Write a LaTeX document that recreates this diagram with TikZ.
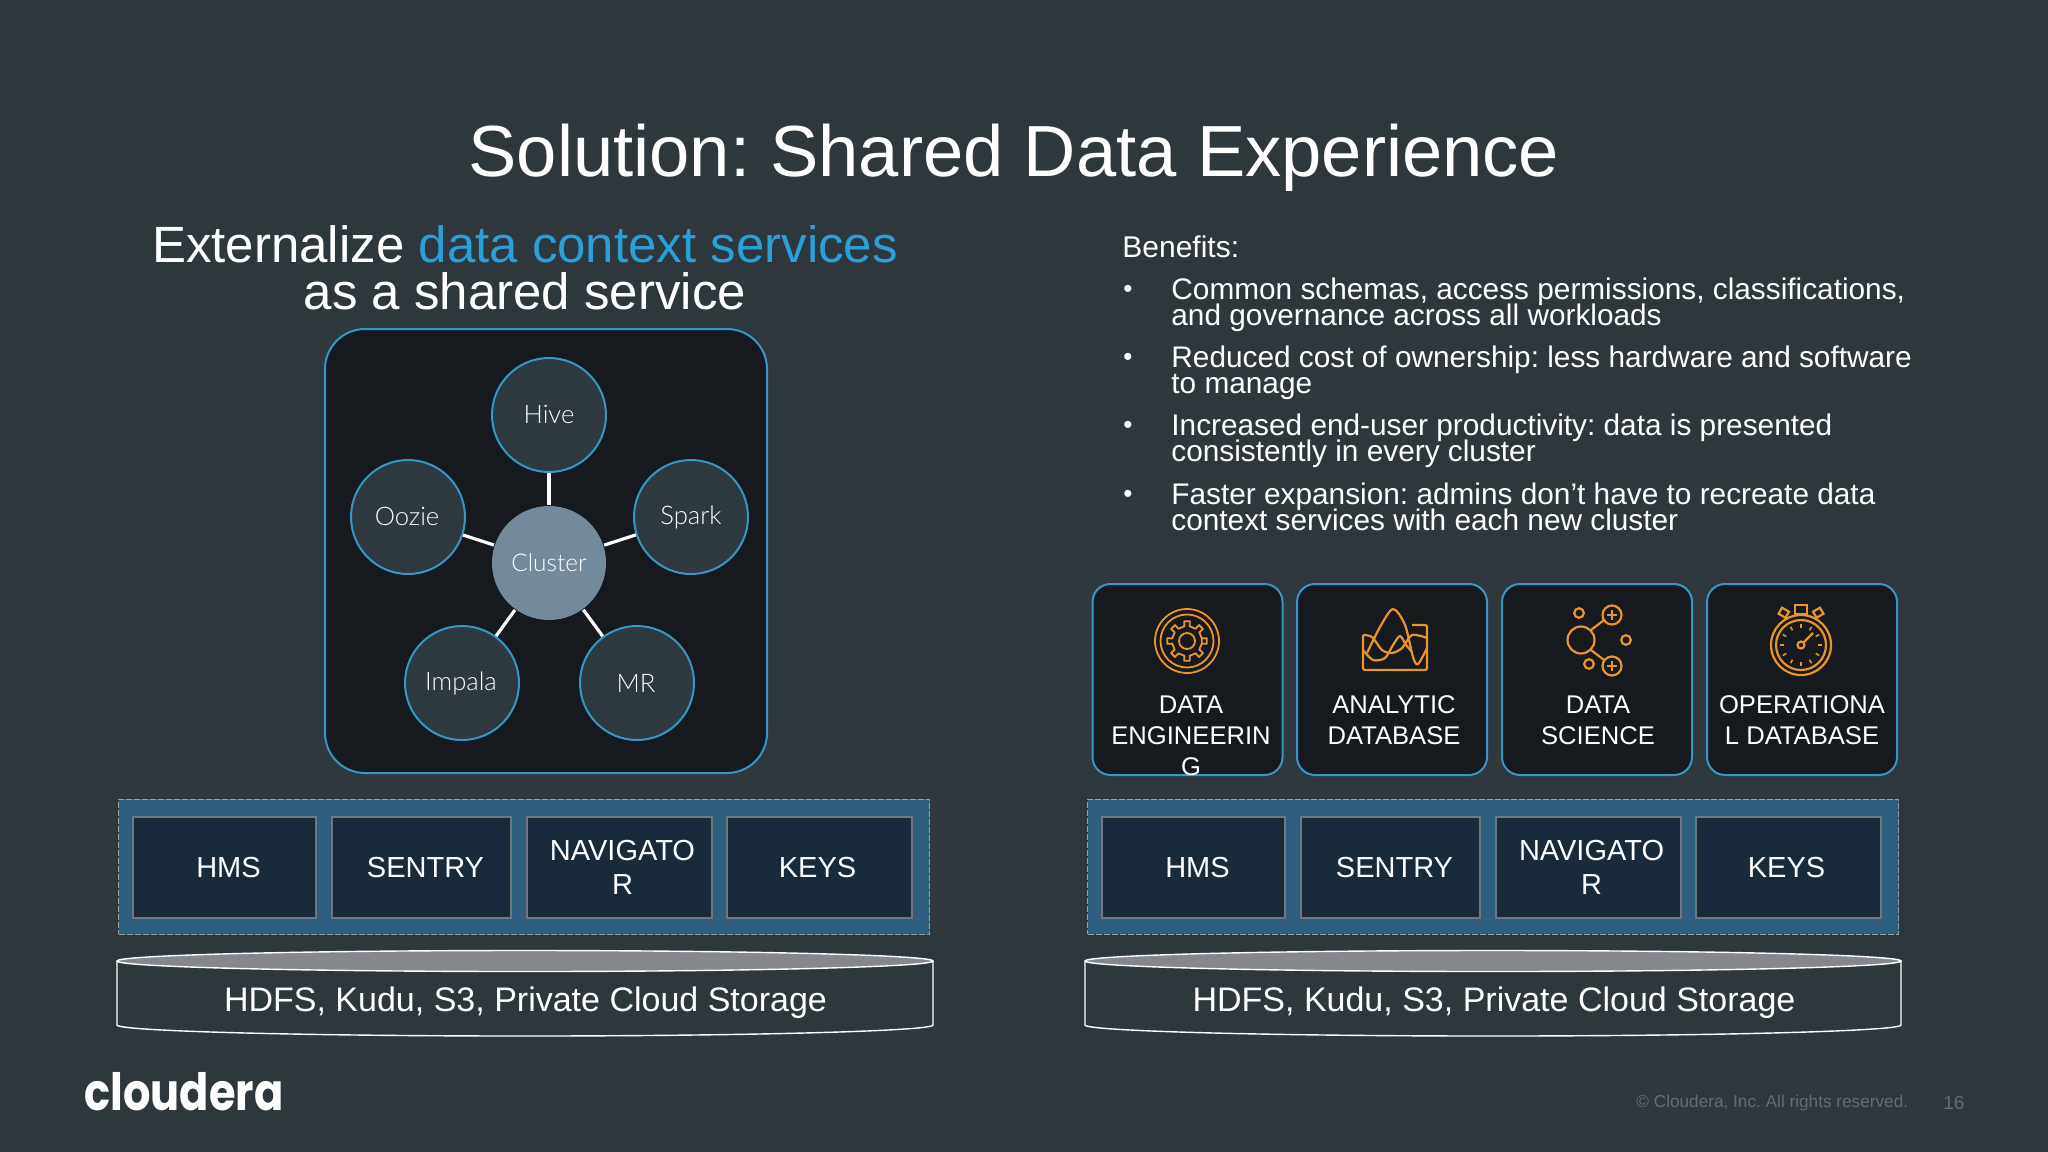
\documentclass[tikz,border=0pt]{standalone}
\usepackage{fontspec}
\usepackage{graphicx}
\setmainfont{Liberation Sans}
\newfontfamily\lightf{Lato Light}
\newfontfamily\logof{Poppins}
\newcommand{\pxf}[2]{\fontsize{#1}{#2}\selectfont\frenchspacing\lineskiplimit=-100pt }
\definecolor{bgc}{HTML}{2E373C}
\definecolor{panelc}{HTML}{16191E}
\definecolor{circc}{HTML}{2E383F}
\definecolor{clusterc}{HTML}{748A9A}
\definecolor{strokec}{HTML}{3796C4}
\definecolor{bandc}{HTML}{2E5F7F}
\definecolor{boxc}{HTML}{192B3A}
\definecolor{boxl}{HTML}{6F787C}
\definecolor{headb}{HTML}{2A9FD8}
\definecolor{orangec}{HTML}{E8962A}
\definecolor{capc}{HTML}{84888D}
\definecolor{footc}{HTML}{646D72}
\tikzset{
  x=0.5pt,y=-0.5pt,
  tile/.style={draw=strokec,line width=1pt,fill=panelc,rounded corners=9pt,minimum width=95pt,minimum height=95.5pt,inner sep=0pt},
  tiletext/.style={text=white,align=center,font=\pxf{12.8}{15.5},inner sep=0pt},
  icon/.style={draw=orangec,line width=1.1pt},
  svc/.style={circle,draw=strokec,line width=1pt,fill=circc,minimum size=57pt,inner sep=0pt,text=white,font=\lightf\pxf{12.8}{15}},
  spoke/.style={draw=white,line width=1.6pt},
  band/.style={draw=boxl!70!white,dashed,dash pattern=on 3pt off 1pt,line width=.5pt,fill=bandc,minimum width=405.5pt,minimum height=67.5pt,inner sep=0pt},
  svcbox/.style={draw=boxl,line width=1pt,fill=boxc,minimum height=50.5pt,inner sep=0pt,text=white,align=center,font=\pxf{14.5}{17}},
  cyl/.style={draw=white,line width=.7pt},
  cyltext/.style={text=white,font=\pxf{17}{20},inner sep=0pt},
  bul/.style={anchor=north west,text=white,align=left,font=\pxf{14.9}{13},inner sep=0pt},
  dot/.style={anchor=center,text=white,font=\pxf{13}{13},inner sep=0pt}
}
\begin{document}
\begin{tikzpicture}
\useasboundingbox (0,0) rectangle (2048,1151.6);
\fill[bgc] (0,0) rectangle (2048,1152);
% titles
\node[text=white,font=\pxf{36.2}{40},inner sep=0pt] (title) at (1014,158) {Solution: Shared Data Experience};
\node[text=white,font=\pxf{25.5}{23.5},align=center,inner sep=0pt] (lhead) at (525,268) {Externalize \textcolor{headb}{data context services}\\as a shared service};
% benefits
\node[anchor=west,text=white,font=\pxf{15}{17},inner sep=0pt] (ben) at (1122,247) {Benefits:};
\node[dot] (d1) at (1128,291) {•};
\node[bul] (b1) at (1171,277) {Common schemas, access permissions, classifications,\\and governance across all workloads};
\node[dot] (d2) at (1128,359) {•};
\node[bul] (b2) at (1171,345) {Reduced cost of ownership: less hardware and software\\to manage};
\node[dot] (d3) at (1128,427) {•};
\node[bul] (b3) at (1171,413) {Increased end-user productivity: data is presented\\consistently in every cluster};
\node[dot] (d4) at (1128,496) {•};
\node[bul] (b4) at (1171,482) {Faster expansion: admins don’t have to recreate data\\context services with each new cluster};
% cluster panel
\node[draw=strokec,line width=1pt,fill=panelc,rounded corners=20pt,minimum width=221pt,minimum height=222pt,inner sep=0pt] (panel) at (546,551) {};
\node[svc] (hive) at (549,415) {\raisebox{1pt}{Hive}};
\node[svc] (oozie) at (408,517) {\raisebox{.5pt}{Oozie}\hspace*{1pt}};
\node[svc] (spark) at (691,517) {Spark};
\node[svc] (impala) at (462,683) {Impala\hspace*{1pt}};
\node[svc] (mr) at (637,683) {MR\hspace*{1pt}};
\node[svc,draw=none,fill=clusterc,font=\lightf\pxf{12.2}{15}] (cluster) at (549,563) {Cluster};
\foreach \n in {hive,oozie,spark,impala,mr} \draw[spoke] (cluster) -- (\n);
% tiles
\node[tile] (t1) at (1187.5,679.5) {};
\node[tile] (t2) at (1392,679.5) {};
\node[tile] (t3) at (1597,679.5) {};
\node[tile] (t4) at (1802,679.5) {};
\node[tiletext,anchor=north] (tt1) at (1191,695) {DATA\\ENGINEERIN\\G};
\node[tiletext,anchor=north] (tt2) at (1394,695) {ANALYTIC\\DATABASE};
\node[tiletext,anchor=north] (tt3) at (1598,695) {DATA\\SCIENCE};
\node[tiletext,anchor=north] (tt4) at (1802,695) {OPERATIONA\\L DATABASE};
% gear icon
\begin{scope}[shift={(1187,641)}]
  \draw[icon,line width=.9pt] (0,0) circle (32);
  \draw[icon,line width=.9pt] (0,0) circle (26.5);
  \draw[icon,line width=.9pt] (0,0) circle (8);
  \draw[icon,line width=.9pt,line join=round]
    (11:15)
    \foreach \a in {0,45,...,315}{
      -- ({\a-10}:15) -- ({\a-8}:20) -- ({\a+8}:20) -- ({\a+10}:15) -- ({\a+35}:15)
    } -- cycle;
\end{scope}
% analytic icon
\draw[icon,rounded corners=1pt] (1363,635) -- (1363,670) -- (1427,670) -- (1427,625) -- (1412,625);
\draw[icon,smooth] plot coordinates {(1367,653) (1380,627) (1393,609) (1405,625) (1413,657) (1418,664) (1427,648)};
\draw[icon,smooth] plot coordinates {(1363,635) (1372,637) (1382,650) (1392,653) (1402,648) (1412,635) (1427,638)};
\draw[icon,smooth] plot coordinates {(1363,650) (1373,660) (1385,658) (1393,645) (1400,636) (1406,645) (1412,652)};
% science icon
\draw[icon] (1581,640) circle (13.5);
\draw[icon] (1612,615) circle (9.5);
\draw[icon] (1612,666) circle (9.5);
\draw[icon] (1579,613) circle (4.8);
\draw[icon] (1626,640) circle (4.8);
\draw[icon] (1589,664) circle (4.8);
\draw[icon] (1591,630) -- (1604,620);
\draw[icon] (1591,650) -- (1604,660);
\draw[icon] (1607,615) -- (1617,615) (1612,610) -- (1612,620);
\draw[icon] (1607,666) -- (1617,666) (1612,661) -- (1612,671);
% stopwatch icon
\begin{scope}[shift={(1801,645)}]
  \draw[icon] (0,0) circle (30);
  \draw[icon] (0,0) circle (25);
  \draw[icon] (0,0) circle (3.5);
  \draw[icon] (2.5,-2.5) -- (12,-12);
  \foreach \a in {0,30,...,330} \draw[icon,line width=.8pt] (\a:17) -- (\a:21);
  \draw[icon] (-6,-31) rectangle (6,-40);
  \draw[icon,rotate around={-30:(-18,-31)}] (-22,-36) rectangle (-14,-29);
  \draw[icon,rotate around={30:(18,-31)}] (14,-36) rectangle (22,-29);
\end{scope}
% left stack
\node[band] (bl) at (524,866.5) {};
\node[svcbox,minimum width=91.5pt] (hl) at (224.5,867.5) {\hspace*{4pt}\raisebox{-.5pt}{HMS}};
\node[svcbox,minimum width=89.5pt] (sl) at (421.5,867.5) {\hspace*{4pt}\raisebox{-.5pt}{SENTRY}};
\node[svcbox,minimum width=92.5pt] (nl) at (619.5,867.5) {\hspace*{3pt}NAVIGATO\\\hspace*{3pt}R};
\node[svcbox,minimum width=92.5pt] (kl) at (819.5,867.5) {\raisebox{-.5pt}{KEYS}\hspace*{2pt}};
\draw[cyl] (117,961) -- (117,1025) .. controls (117,1031) and (300,1036) .. (525,1036) .. controls (750,1036) and (933,1031) .. (933,1025) -- (933,961);
\draw[cyl,fill=capc] (525,961) ellipse (408 and 10.5);
\node[cyltext] (cl) at (525.5,1003) {HDFS, Kudu, S3, Private Cloud Storage};
% right stack
\node[band] (br) at (1493,866.5) {};
\node[svcbox,minimum width=91.5pt] (hr) at (1193.5,867.5) {\hspace*{4pt}\raisebox{-.5pt}{HMS}};
\node[svcbox,minimum width=89.5pt] (sr) at (1390.5,867.5) {\hspace*{4pt}\raisebox{-.5pt}{SENTRY}};
\node[svcbox,minimum width=92.5pt] (nr) at (1588.5,867.5) {\hspace*{3pt}NAVIGATO\\\hspace*{3pt}R};
\node[svcbox,minimum width=92.5pt] (kr) at (1788.5,867.5) {\raisebox{-.5pt}{KEYS}\hspace*{2pt}};
\draw[cyl] (1085,961) -- (1085,1025) .. controls (1085,1031) and (1268,1036) .. (1493,1036) .. controls (1718,1036) and (1901,1031) .. (1901,1025) -- (1901,961);
\draw[cyl,fill=capc] (1493,961) ellipse (408 and 10.5);
\node[cyltext] (cr) at (1494,1003) {HDFS, Kudu, S3, Private Cloud Storage};
% footer
\node[anchor=west,text=white,inner sep=0pt,font=\logof\bfseries\pxf{24.5}{26}] (logo) at (84,1092) {\scalebox{.88}[1.05]{cloudera}};
\node[anchor=west,text=footc,inner sep=0pt,font=\pxf{8.6}{11}] (copy) at (1636,1103) {© Cloudera, Inc. All rights reserved.};
\node[anchor=west,text=footc,inner sep=0pt,font=\pxf{9.5}{11}] (pg) at (1943,1103) {16};
\end{tikzpicture}
\end{document}
